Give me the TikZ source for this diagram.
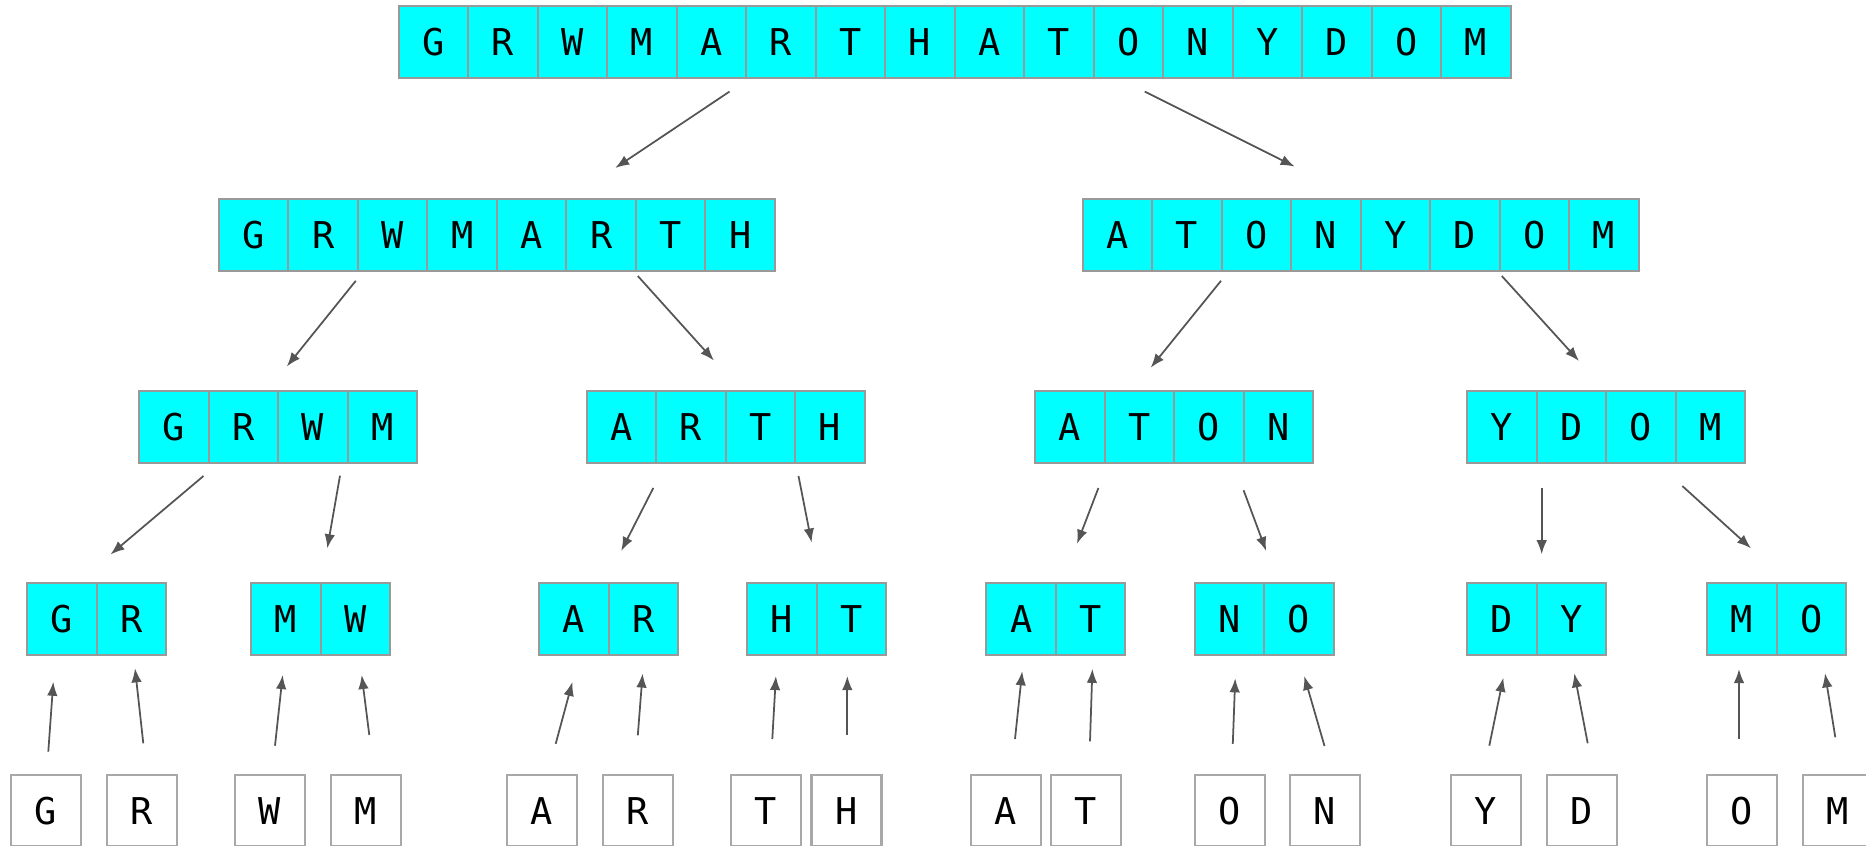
\documentclass[tikz,border=0pt]{standalone}
\usepackage{fontspec}
\setmonofont{DejaVu Sans Mono}
\usetikzlibrary{arrows.meta}
\definecolor{cellfill}{HTML}{00FFFF}
\definecolor{cellline}{HTML}{999999}
\definecolor{leafline}{HTML}{A8A8A8}
\definecolor{arrowcol}{HTML}{555555}
\tikzset{
  cell/.style={draw=cellline, fill=cellfill, line width=0.6pt, minimum width=0.695cm, minimum height=0.72cm, inner sep=0pt, anchor=north west, font=\ttfamily\fontsize{10.5}{12}\selectfont},
  leaf/.style={draw=leafline, fill=white, line width=0.6pt, minimum width=0.70cm, minimum height=0.71cm, inner sep=0pt, anchor=north west, font=\ttfamily\fontsize{10.5}{12}\selectfont},
  arr/.style={draw=arrowcol, line width=0.5pt, -{Latex[length=4pt,width=3pt]}},
}
\newcommand\cellrow[4]{%
  \foreach \l [count=\i] in {#4} {
    \node[cell] (#1-\i) at ({#2+69.5*(\i-1)},#3) {\l};
  }}
\begin{document}
\begin{tikzpicture}[x=0.01cm,y=-0.01cm]
\useasboundingbox (0,0) rectangle (1866,846);
% row 1
\cellrow{top}{397.5}{5}{G,R,W,M,A,R,T,H,A,T,O,N,Y,D,O,M}
% row 2
\cellrow{L}{217.8}{198}{G,R,W,M,A,R,T,H}
\cellrow{R}{1081.7}{198}{A,T,O,N,Y,D,O,M}
% row 3
\cellrow{grwm}{138}{390}{G,R,W,M}
\cellrow{arth}{585.5}{390}{A,R,T,H}
\cellrow{aton}{1034}{390}{A,T,O,N}
\cellrow{ydom}{1466}{390}{Y,D,O,M}
% row 4
\cellrow{gr}{26}{582}{G,R}
\cellrow{mw}{250}{582}{M,W}
\cellrow{ar}{538}{582}{A,R}
\cellrow{ht}{746}{582}{H,T}
\cellrow{at}{985.3}{582}{A,T}
\cellrow{no}{1193.6}{582}{N,O}
\cellrow{dy}{1466}{582}{D,Y}
\cellrow{mo}{1706}{582}{M,O}
% row 5 leaves
\node[leaf] (l1) at (9.7,774) {G};
\node[leaf] (l2) at (105.7,774) {R};
\node[leaf] (l3) at (233.7,774) {W};
\node[leaf] (l4) at (330,774) {M};
\node[leaf] (l5) at (505.8,774) {A};
\node[leaf] (l6) at (602,774) {R};
\node[leaf] (l7) at (729.5,774) {T};
\node[leaf] (l8) at (810.4,774) {H};
\node[leaf] (l9) at (970,774) {A};
\node[leaf] (l10) at (1049.6,774) {T};
\node[leaf] (l11) at (1193.6,774) {O};
\node[leaf] (l12) at (1288.8,774) {N};
\node[leaf] (l13) at (1449.7,774) {Y};
\node[leaf] (l14) at (1545.7,774) {D};
\node[leaf] (l15) at (1705.7,774) {O};
\node[leaf] (l16) at (1801.7,774) {M};
% arrow end coordinates
\coordinate (a1s) at (729.5,91.6);  \coordinate (a1e) at (615.2,168);
\coordinate (a2s) at (1144.8,91.6); \coordinate (a2e) at (1294.7,166.6);
\coordinate (b1s) at (355.8,280.8); \coordinate (b1e) at (286.8,366.5);
\coordinate (b2s) at (637.8,276);   \coordinate (b2e) at (714,360.6);
\coordinate (b3s) at (1221,280.8);  \coordinate (b3e) at (1150.7,367.7);
\coordinate (b4s) at (1501.8,276);  \coordinate (b4e) at (1579,361);
\coordinate (c1s) at (203.5,476);   \coordinate (c1e) at (110.5,554.5);
\coordinate (c2s) at (340,475.7);   \coordinate (c2e) at (327.3,548.3);
\coordinate (c3s) at (653.3,488);   \coordinate (c3e) at (621.2,551);
\coordinate (c4s) at (798.5,476);   \coordinate (c4e) at (811.6,542.6);
\coordinate (c5s) at (1098.4,488);  \coordinate (c5e) at (1077,543.8);
\coordinate (c6s) at (1243.6,490.3);\coordinate (c6e) at (1266.2,551);
\coordinate (c7s) at (1541.7,487.7);\coordinate (c7e) at (1541.7,554.3);
\coordinate (c8s) at (1682.3,486);  \coordinate (c8e) at (1751,548.3);
\coordinate (d1s) at (48.3,751.7);  \coordinate (d1e) at (53.3,681.7);
\coordinate (d2s) at (143.3,743.3); \coordinate (d2e) at (135,668.3);
\coordinate (d3s) at (275,745.7);   \coordinate (d3e) at (282.7,675);
\coordinate (d4s) at (369.3,735);   \coordinate (d4e) at (361.7,675);
\coordinate (d5s) at (555.7,743.8); \coordinate (d5e) at (572.4,681.9);
\coordinate (d6s) at (637.8,735.4); \coordinate (d6e) at (642.6,673.5);
\coordinate (d7s) at (772.3,739);   \coordinate (d7e) at (775.9,676);
\coordinate (d8s) at (847.3,735.4); \coordinate (d8e) at (847.3,676);
\coordinate (d9s) at (1015,739);    \coordinate (d9e) at (1022.2,671.2);
\coordinate (d10s) at (1090,741.4); \coordinate (d10e) at (1092.4,668.8);
\coordinate (d11s) at (1232.8,743.8);\coordinate (d11e) at (1235.2,678.3);
\coordinate (d12s) at (1324.5,746); \coordinate (d12e) at (1304.2,676);
\coordinate (d13s) at (1489.3,745.7);\coordinate (d13e) at (1503.3,677.7);
\coordinate (d14s) at (1587.7,743.3);\coordinate (d14e) at (1574.3,673.3);
\coordinate (d15s) at (1739,739.3); \coordinate (d15e) at (1739,669);
\coordinate (d16s) at (1835.3,737.3);\coordinate (d16e) at (1825,673.3);
\foreach \n in {a1,a2,b1,b2,b3,b4,c1,c2,c3,c4,c5,c6,c7,c8,d1,d2,d3,d4,d5,d6,d7,d8,d9,d10,d11,d12,d13,d14,d15,d16}
  \draw[arr] (\n s) -- (\n e);
\end{tikzpicture}
\end{document}
